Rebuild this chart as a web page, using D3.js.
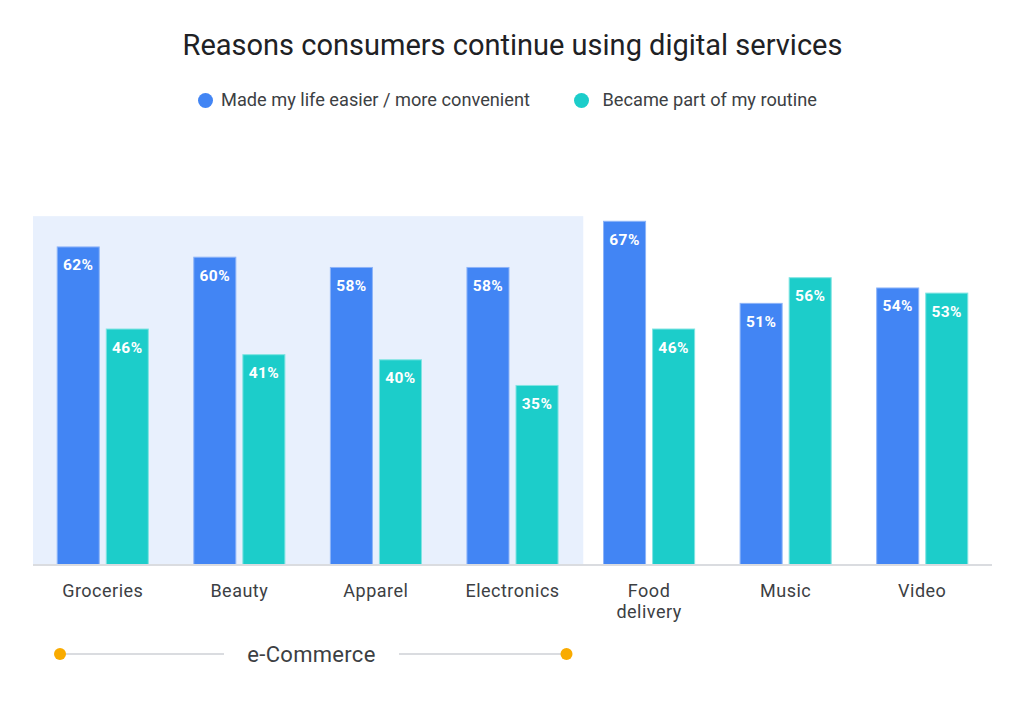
<!DOCTYPE html>
<html>
<head>
<meta charset="utf-8">
<script src="https://cdn.jsdelivr.net/npm/d3@7"></script>
<style>
  body { margin: 0; background: #fff; }
  svg { display: block; font-family: Roboto, "Noto Sans", sans-serif; }
</style>
</head>
<body>
<div id="chart"></div>
<script>
// Chart data
const categories = ['Groceries', 'Beauty', 'Apparel', 'Electronics', 'Food delivery', 'Music', 'Video'];
const easierValues = [62, 60, 58, 58, 67, 51, 54];
const routineValues = [46, 41, 40, 35, 46, 56, 53];
const seriesNames = ['Made my life easier / more convenient', 'Became part of my routine'];
const ecommerceGroup = ['Groceries', 'Beauty', 'Apparel', 'Electronics'];
const groupLabel = 'e-Commerce';

const width = 1024;
const height = 707;
const colors = ['#4285f4', '#1ccdca'];

const svg = d3.select('#chart')
  .append('svg')
  .attr('width', width)
  .attr('height', height);

// Scales
const x = d3.scaleBand()
  .domain(categories)
  .range([34, 991])
  .paddingInner(0.333)
  .paddingOuter(0.17);

const xSub = d3.scaleBand()
  .domain([0, 1])
  .range([0, x.bandwidth()])
  .paddingInner(0.143);

const y = d3.scaleLinear()
  .domain([0, 100])
  .range([565, 52]);

// Shaded e-commerce area
const shadeLeft = x(ecommerceGroup[0]) - x.step() * x.paddingOuter();
const lastEc = ecommerceGroup[ecommerceGroup.length - 1];
const shadeRight = x(lastEc) + x.bandwidth() + x.step() * x.paddingOuter();
svg.append('rect')
  .attr('x', shadeLeft - 1)
  .attr('y', y(68))
  .attr('width', shadeRight - shadeLeft + 3)
  .attr('height', y(0) - y(68))
  .attr('fill', '#e8f0fd');

// Title
svg.append('text')
  .attr('x', 512.5)
  .attr('y', 55)
  .attr('text-anchor', 'middle')
  .attr('font-size', 29)
  .attr('fill', '#202124')
  .text('Reasons consumers continue using digital services');

// Legend
const legendPos = [205.5, 581.5];
const legend = svg.append('g');
seriesNames.forEach((name, i) => {
  legend.append('circle')
    .attr('cx', legendPos[i])
    .attr('cy', 100.5)
    .attr('r', 7.5)
    .attr('fill', colors[i]);
  legend.append('text')
    .attr('x', legendPos[i] + (i === 0 ? 15.5 : 21))
    .attr('y', 106)
    .attr('font-size', 18.2)
    .attr('fill', '#3c4043')
    .text(name);
});

// Bars
const rows = categories.map((c, i) => ({ category: c, values: [easierValues[i], routineValues[i]] }));

const groups = svg.append('g')
  .selectAll('g')
  .data(rows)
  .join('g')
  .attr('transform', d => `translate(${x(d.category)},0)`);

const bars = groups.selectAll('g.bar')
  .data(d => d.values.map((v, i) => ({ v, i })))
  .join('g')
  .attr('class', 'bar');

bars.append('rect')
  .attr('x', d => xSub(d.i))
  .attr('y', d => y(d.v))
  .attr('width', xSub.bandwidth())
  .attr('height', d => y(0) - y(d.v))
  .attr('fill', d => colors[d.i])
  .attr('stroke', d => d.i === 0 ? '#8db4f8' : '#80e4e2')
  .attr('stroke-width', 1);

bars.append('text')
  .attr('x', d => xSub(d.i) + xSub.bandwidth() / 2)
  .attr('y', d => y(d.v) + 23.5)
  .attr('text-anchor', 'middle')
  .attr('font-size', 15.5)
  .attr('font-weight', 'bold')
  .attr('letter-spacing', 0.4)
  .attr('fill', '#fff')
  .text(d => d.v + '%');

// Baseline axis
svg.append('line')
  .attr('x1', 33)
  .attr('x2', 992)
  .attr('y1', y(0))
  .attr('y2', y(0))
  .attr('stroke', '#dadce0')
  .attr('stroke-width', 2);

// Category labels
const labels = svg.append('g')
  .selectAll('text')
  .data(categories)
  .join('text')
  .attr('x', d => x(d) + x.bandwidth() / 2)
  .attr('y', 597)
  .attr('text-anchor', 'middle')
  .attr('font-size', 18)
  .attr('letter-spacing', 0.5)
  .attr('fill', '#3c4043');

labels.each(function(d) {
  const words = d === 'Food delivery' ? ['Food', 'delivery'] : [d];
  const t = d3.select(this);
  words.forEach((w, i) => {
    t.append('tspan')
      .attr('x', x(d) + x.bandwidth() / 2)
      .attr('dy', i === 0 ? 0 : 21)
      .text(w);
  });
});

// e-Commerce bracket
const bracketY = 654;
const bx1 = 60;
const bx2 = 566.5;
svg.append('line')
  .attr('x1', bx1).attr('x2', 224)
  .attr('y1', bracketY).attr('y2', bracketY)
  .attr('stroke', '#dadce0').attr('stroke-width', 2);
svg.append('line')
  .attr('x1', 399).attr('x2', bx2)
  .attr('y1', bracketY).attr('y2', bracketY)
  .attr('stroke', '#dadce0').attr('stroke-width', 2);
[bx1, bx2].forEach(cx => {
  svg.append('circle')
    .attr('cx', cx)
    .attr('cy', bracketY)
    .attr('r', 6)
    .attr('fill', '#f9ab00');
});
svg.append('text')
  .attr('x', 311.5)
  .attr('y', bracketY + 7.5)
  .attr('text-anchor', 'middle')
  .attr('font-size', 22)
  .attr('letter-spacing', 0.3)
  .attr('fill', '#3c4043')
  .text(groupLabel);
</script>
</body>
</html>
